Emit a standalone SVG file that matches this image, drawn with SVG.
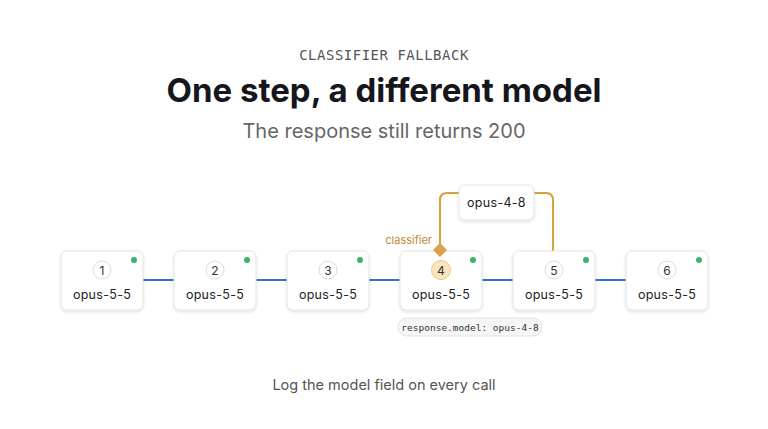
<svg xmlns="http://www.w3.org/2000/svg" width="768" height="429" viewBox="0 0 768 429">
<defs>
<filter id="sh" x="-20%" y="-20%" width="140%" height="150%"><feDropShadow dx="0" dy="1.5" stdDeviation="1.8" flood-color="#000" flood-opacity="0.12"/></filter>
<style>
.card{fill:#fff;stroke:#e3e3e3;stroke-width:1;filter:url(#sh)}
.num{fill:#fff;stroke:#dcdcdc;stroke-width:1}
.numt{font-family:Inter,"Liberation Sans",sans-serif;font-size:12px;fill:#333;text-anchor:middle}
.lbl{font-family:Inter,"Liberation Sans",sans-serif;font-size:12.5px;fill:#222;text-anchor:middle;letter-spacing:0.3px}
.dot{fill:#3cb371}
.conn{stroke:#3a6fd0;stroke-width:2;fill:none}
.fb{stroke:#d9a13d;stroke-width:2;fill:none}
</style>
</defs>
<rect width="768" height="429" fill="#fff"/>
<text x="384" y="60" font-family="'DejaVu Sans Mono','Liberation Mono',monospace" font-size="14" fill="#555" text-anchor="middle" letter-spacing="0.5">CLASSIFIER FALLBACK</text>
<text x="384" y="102" font-family="Inter,'Liberation Sans',sans-serif" font-size="33" font-weight="700" fill="#15171c" text-anchor="middle">One step, a different model</text>
<text x="384" y="138" font-family="Inter,'Liberation Sans',sans-serif" font-size="20" fill="#666" text-anchor="middle">The response still returns 200</text>
<g id="connectors">
<line class="conn" x1="143" y1="280" x2="174" y2="280"/>
<line class="conn" x1="256" y1="280" x2="287" y2="280"/>
<line class="conn" x1="369" y1="280" x2="400" y2="280"/>
<line class="conn" x1="482" y1="280" x2="513" y2="280"/>
<line class="conn" x1="595" y1="280" x2="626" y2="280"/>
<path class="fb" d="M440 250 V200 Q440 193 447 193 H459"/>
<path class="fb" d="M534 193 H546 Q553 193 553 200 V251"/>
</g>
<g id="fallback">
<rect class="card" x="459" y="185" width="75" height="35" rx="6"/>
<text class="lbl" x="496.5" y="207">opus-4-8</text>
</g>
<g id="n1"><rect class="card" x="61" y="251" width="82" height="59" rx="6"/><circle class="dot" cx="134" cy="260" r="3"/><circle class="num" cx="102" cy="270" r="9"/><text class="numt" x="102" y="274.5">1</text><text class="lbl" x="102" y="299">opus-5-5</text></g>
<g id="n2"><rect class="card" x="174" y="251" width="82" height="59" rx="6"/><circle class="dot" cx="247" cy="260" r="3"/><circle class="num" cx="215" cy="270" r="9"/><text class="numt" x="215" y="274.5">2</text><text class="lbl" x="215" y="299">opus-5-5</text></g>
<g id="n3"><rect class="card" x="287" y="251" width="82" height="59" rx="6"/><circle class="dot" cx="360" cy="260" r="3"/><circle class="num" cx="328" cy="270" r="9"/><text class="numt" x="328" y="274.5">3</text><text class="lbl" x="328" y="299">opus-5-5</text></g>
<g id="n4"><rect class="card" x="400" y="251" width="82" height="59" rx="6"/><circle class="dot" cx="473" cy="260" r="3"/><circle cx="441" cy="270" r="9.5" fill="#fbe3bd" stroke="#efc88a"/><text class="numt" x="441" y="274.5">4</text><text class="lbl" x="441" y="299">opus-5-5</text></g>
<g id="n5"><rect class="card" x="513" y="251" width="82" height="59" rx="6"/><circle class="dot" cx="586" cy="260" r="3"/><circle class="num" cx="554" cy="270" r="9"/><text class="numt" x="554" y="274.5">5</text><text class="lbl" x="554" y="299">opus-5-5</text></g>
<g id="n6"><rect class="card" x="626" y="251" width="82" height="59" rx="6"/><circle class="dot" cx="699" cy="260" r="3"/><circle class="num" cx="667" cy="270" r="9"/><text class="numt" x="667" y="274.5">6</text><text class="lbl" x="667" y="299">opus-5-5</text></g>
<g id="classifier">
<text x="432" y="244" font-family="Inter,'Liberation Sans',sans-serif" font-size="11" fill="#c08a3a" text-anchor="end">classifier</text>
<rect x="435" y="245" width="10" height="10" fill="#dea04a" transform="rotate(45 440 250)"/>
</g>
<g id="badge">
<rect x="398" y="318" width="144" height="18" rx="9" fill="#f6f6f6" stroke="#e2e2e2"/>
<text x="470" y="331" font-family="'DejaVu Sans Mono','Liberation Mono',monospace" font-size="9.5" fill="#333" text-anchor="middle">response.model: opus-4-8</text>
</g>
<text x="384" y="390" font-family="Inter,'Liberation Sans',sans-serif" font-size="14.5" fill="#555" text-anchor="middle">Log the model field on every call</text>
</svg>
